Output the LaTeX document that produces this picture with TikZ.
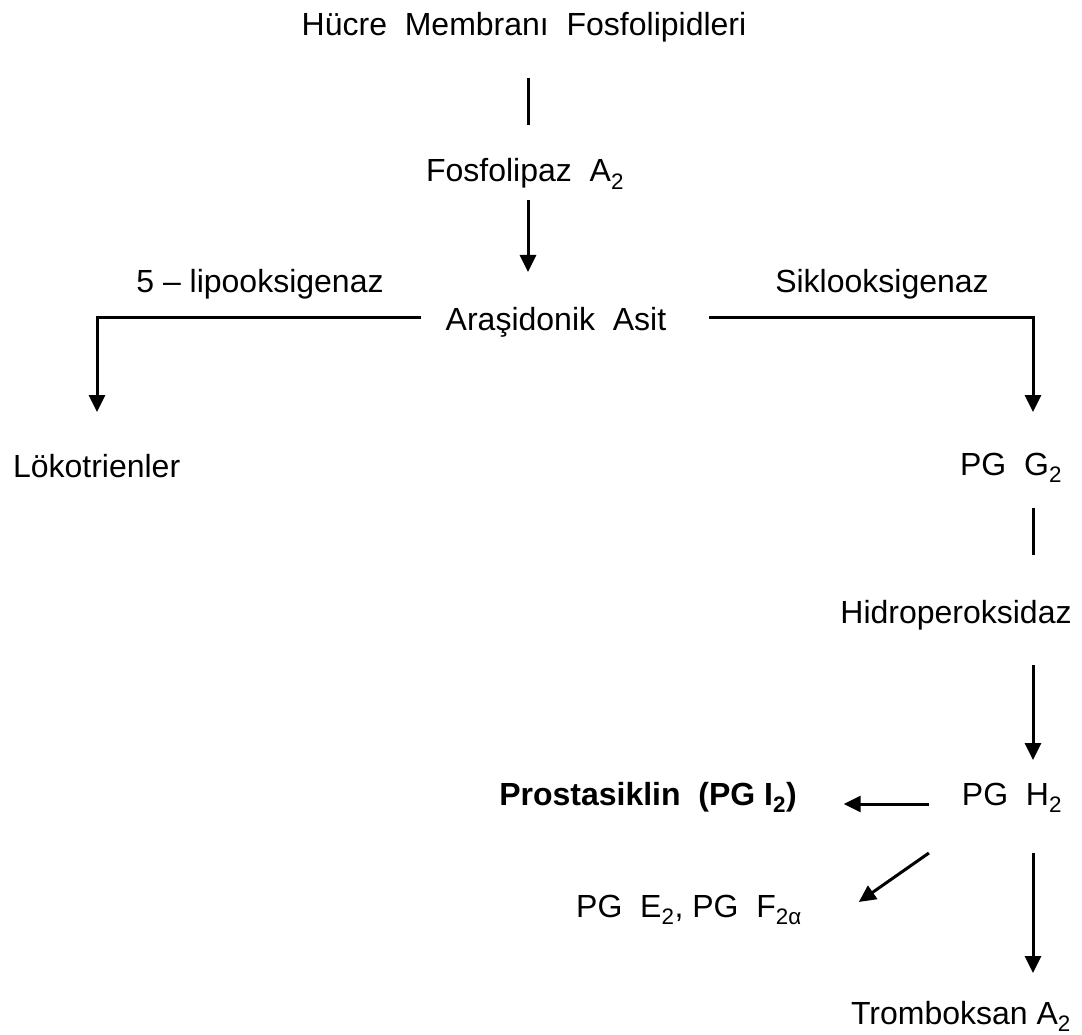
\documentclass[tikz,border=0pt]{standalone}
\usepackage{fontspec}
\setmainfont{Liberation Sans}
\usetikzlibrary{arrows.meta}

\begin{document}
\begin{tikzpicture}[x=1pt,y=-1pt,line width=3pt,
    every node/.style={font=\fontsize{32}{38}\selectfont,inner sep=2pt,outer sep=0pt,anchor=base},
    arr/.style={-{Triangle[length=17pt,width=16pt]}}]
  \useasboundingbox (0,0) rectangle (1082,1035);
  \coordinate (colm) at (528,0);
  \coordinate (coll) at (97,0);
  \coordinate (colr) at (1033,0);

  \node (hucre) at (524,36) {Hücre~~Membranı~~Fosfolipidleri};
  \node (fosfo) at (525,182) {Fosfolipaz~~A\textsubscript{2}};
  \node (lipo) at (260,292) {5 – lipooksigenaz};
  \node (siklo) at (882,292) {Siklooksigenaz};
  \node (araz) at (556,330) {Araşidonik~~Asit};
  \node[anchor=base west] (loko) at (11,477) {Lökotrienler};
  \node[anchor=base east] (pgg) at (1064,475) {PG~~G\textsubscript{2}};
  \node (hidro) at (956,623) {Hidroperoksidaz};
  \node[anchor=base east] (pgh) at (1064,805) {PG~~H\textsubscript{2}};
  \node (prosta) at (648,805) {\textbf{Prostasiklin~~(PG I\textsubscript{2})}};
  \node (pgef) at (689,917) {PG~~E\textsubscript{2}, PG~~F\textsubscript{2α}};
  \node (trom) at (961,1024) {Tromboksan A\textsubscript{2}};

  \draw ([yshift=-42pt]hucre.base -| colm) -- ([yshift=57pt]fosfo.base -| colm);
  \draw[arr] ([yshift=-18pt]fosfo.base -| colm) -- ([yshift=58pt]araz.base -| colm);
  \draw[arr] ([xshift=-23pt,yshift=13pt]araz.base west) -| ([yshift=65pt]loko.base -| coll);
  \draw[arr] ([xshift=41pt,yshift=13pt]araz.base east) -| ([yshift=63pt]pgg.base -| colr);
  \draw ([yshift=-33pt]pgg.base -| colr) -- ([yshift=68pt]hidro.base -| colr);
  \draw[arr] ([yshift=-42pt]hidro.base -| colr) -- ([yshift=45pt]pgh.base -| colr);
  \draw[arr] ([xshift=-31pt,yshift=1pt]pgh.base west) -- ([xshift=45pt,yshift=1pt]prosta.base east);
  \draw[arr] ([xshift=-31pt,yshift=-48pt]pgh.base west) -- ([xshift=55pt,yshift=15pt]pgef.base east);
  \draw[arr] ([yshift=-48pt]pgh.base -| colr) -- ([yshift=51pt]trom.base -| colr);
\end{tikzpicture}
\end{document}
